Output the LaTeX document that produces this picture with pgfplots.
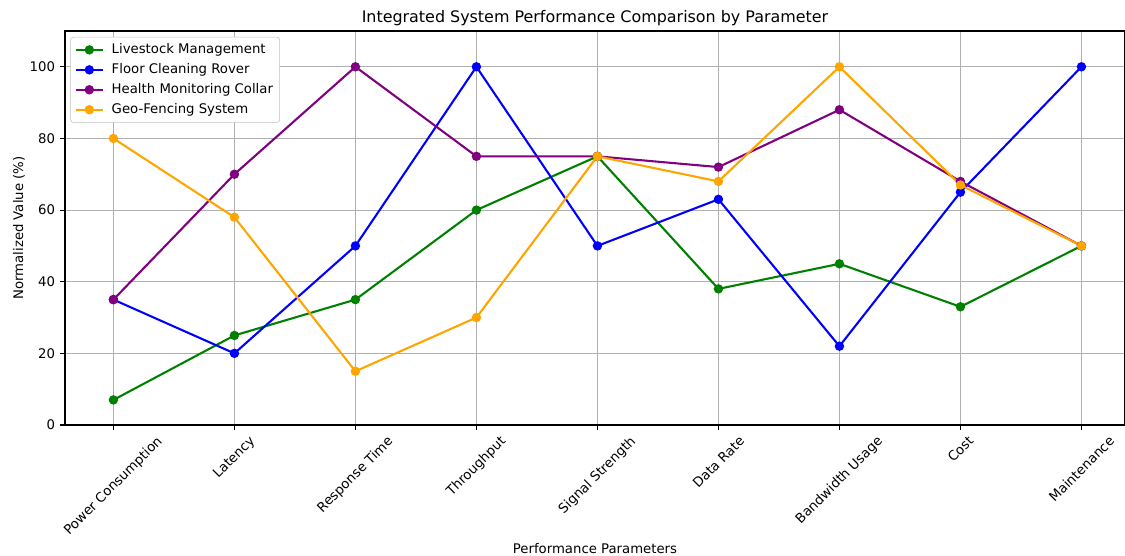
\documentclass[border=0pt]{standalone}
\usepackage{fontspec}
\setmainfont{DejaVu Sans}
\usepackage{graphicx}
\usepackage{pgfplots}
\pgfplotsset{compat=1.18}
\definecolor{mgreen}{RGB}{0,128,0}
\definecolor{mblue}{RGB}{0,0,255}
\definecolor{mpurple}{RGB}{128,0,128}
\definecolor{morange}{RGB}{255,165,0}
\definecolor{mgrid}{HTML}{B0B0B0}
\begin{document}
\begin{tikzpicture}
\begin{axis}[
  name=ax,
  at={(0,0)}, anchor=south west,
  scale only axis, width=763.2pt, height=283.7pt,
  xmin=-0.4, xmax=8.36, ymin=0, ymax=110,
  xtick={0,1,2,3,4,5,6,7,8},
  xticklabels={
    \rotatebox{45}{Power Consumption},
    \rotatebox{45}{Latency},
    \rotatebox{45}{Response Time},
    \rotatebox{45}{Throughput},
    \rotatebox{45}{Signal Strength},
    \rotatebox{45}{Data Rate},
    \rotatebox{45}{Bandwidth Usage},
    \rotatebox{45}{Cost},
    \rotatebox{45}{Maintenance}},
  xticklabel style={anchor=north, inner sep=0pt, yshift=-3.5pt},
  ytick={0,20,40,60,80,100},
  yticklabel style={inner sep=0pt, xshift=-3.5pt},
  grid=major, grid style={mgrid, line width=0.8pt},
  axis line style={line width=0.8pt},
  tick style={black, line width=0.8pt},
  tick align=outside, tick pos=left, major tick length=3.5pt,
  font=\fontsize{9.55}{11.5}\selectfont,
  tick label style={font=\fontsize{9.55}{11.5}\selectfont},
  /pgf/number format/assume math mode=true,
  title={Integrated System Performance Comparison by Parameter},
  title style={font=\fontsize{11.46}{13.8}\selectfont, yshift=-5.5pt},
  xlabel={Performance Parameters},
  ylabel={Normalized Value (\%)},
  xlabel style={font=\fontsize{9.55}{11.5}\selectfont, yshift=-0.8pt},
  ylabel style={font=\fontsize{9.55}{11.5}\selectfont},
  legend style={at={(0.005,0.985)}, anchor=north west, draw=mgrid!80, rounded corners=2pt,
    fill=white, font=\fontsize{9.55}{11.5}\selectfont, row sep=1.6pt, inner sep=2.8pt},
  legend cell align=left,
  legend image code/.code={\draw[mark repeat=2,mark phase=2] plot coordinates {(0cm,0cm)(0.35cm,0cm)(0.7cm,0cm)};\path (0.82cm,0cm);},
  every axis plot/.append style={line width=1.5pt, mark=*, mark size=2.6pt},
]
\addplot[mgreen, mark options={fill=mgreen}] coordinates {(0,7)(1,25)(2,35)(3,60)(4,75)(5,38)(6,45)(7,33)(8,50)};
\addlegendentry{Livestock Management}
\addplot[mblue, mark options={fill=mblue}] coordinates {(0,35)(1,20)(2,50)(3,100)(4,50)(5,63)(6,22)(7,65)(8,100)};
\addlegendentry{Floor Cleaning Rover}
\addplot[mpurple, mark options={fill=mpurple}] coordinates {(0,35)(1,70)(2,100)(3,75)(4,75)(5,72)(6,88)(7,68)(8,50)};
\addlegendentry{Health Monitoring Collar}
\addplot[morange, mark options={fill=morange}] coordinates {(0,80)(1,58)(2,15)(3,30)(4,75)(5,68)(6,100)(7,67)(8,50)};
\addlegendentry{Geo-Fencing System}
\end{axis}
\pgfresetboundingbox
\useasboundingbox (-46.8pt,-94.3pt) rectangle (763.2pt,306.0pt);
\end{tikzpicture}
\end{document}
